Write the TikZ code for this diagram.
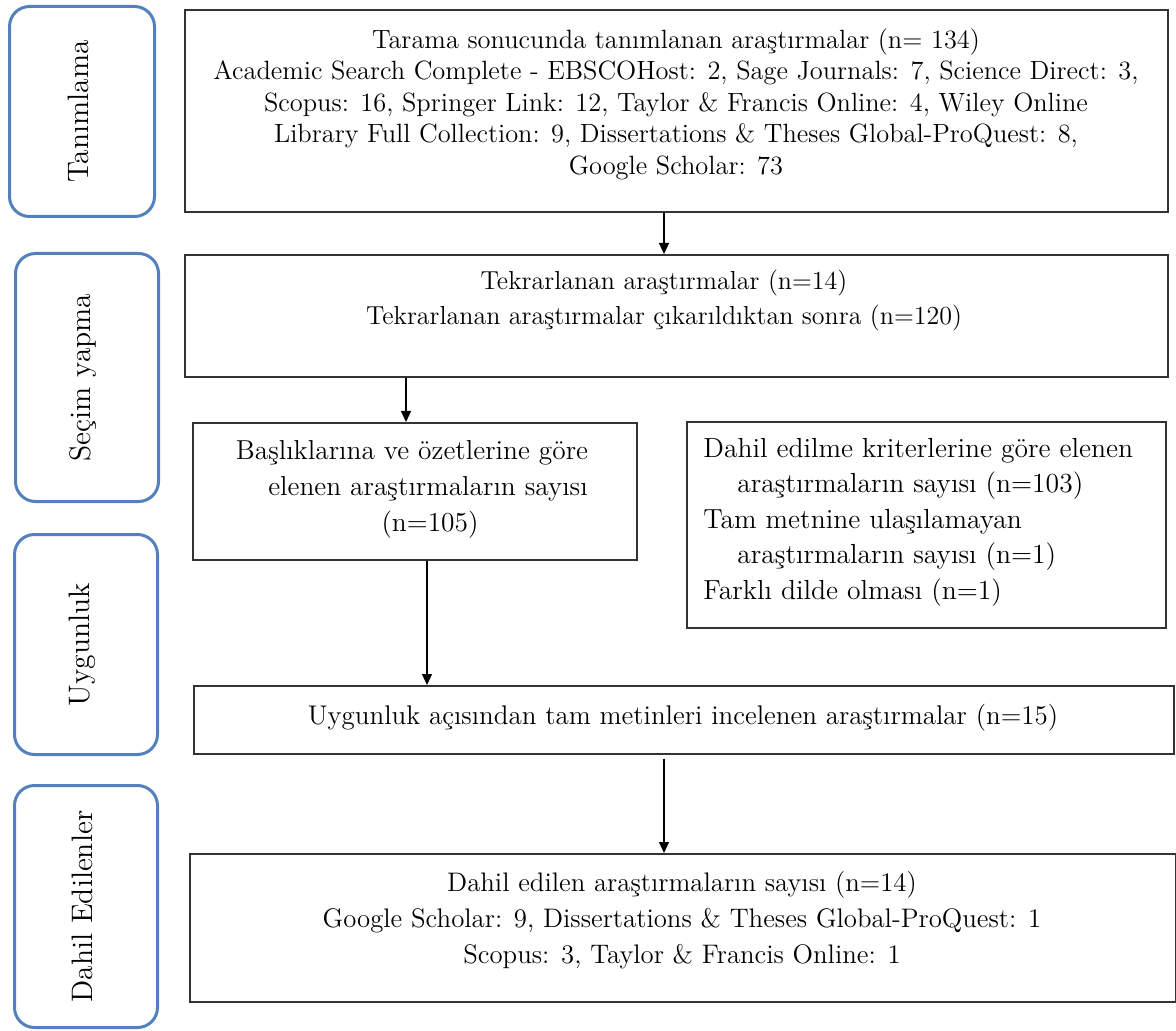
\documentclass[tikz,border=0pt]{standalone}
\usetikzlibrary{arrows.meta}
\definecolor{sideblue}{HTML}{5381BC}
\definecolor{boxline}{HTML}{333333}
\tikzset{
  sidebox/.style={draw=sideblue, line width=1.5pt, rounded corners=10pt, anchor=north west, inner sep=0pt},
  sidelabel/.style={rotate=90, font=\fontsize{14.8}{17}\selectfont, inner sep=0pt},
  mainbox/.style={draw=boxline, line width=0.8pt, anchor=north west, inner sep=0pt},
  maintext/.style={font=\fontsize{13.4}{15.75}\selectfont, inner sep=0pt},
  arr/.style={-{Triangle[length=5.5pt,width=5pt]}, line width=0.6pt, black}
}
\begin{document}
\begin{tikzpicture}[x=0.5pt,y=-0.5pt]
\useasboundingbox (0,0) rectangle (1176,1031);
\fill[white] (0,0) rectangle (1176,1031);
% side boxes
\node[sidebox, minimum width=72.5pt, minimum height=105pt] (s1) at (8,5) {};
\node[sidebox, minimum width=71.5pt, minimum height=124pt] (s2) at (14,252) {};
\node[sidebox, minimum width=71.5pt, minimum height=110pt] (s3) at (13,533) {};
\node[sidebox, minimum width=71.5pt, minimum height=121pt] (s4) at (13,784) {};
\node[sidelabel] (l1) at ([xshift=-2pt]s1.center) {Tanımlama};
\node[sidelabel] (l2) at ([xshift=-2pt]s2.center) {Seçim yapma};
\node[sidelabel] (l3) at ([xshift=-2pt]s3.center) {Uygunluk};
\node[sidelabel] (l4) at ([xshift=-2pt]s4.center) {Dahil Edilenler};
% main boxes
\node[mainbox, minimum width=491.5pt, minimum height=101pt] (b1) at (184,9) {};
\node[mainbox, minimum width=491.5pt, minimum height=61pt] (b2) at (184,254) {};
\node[mainbox, minimum width=222pt, minimum height=68.5pt] (b3) at (192,422) {};
\node[mainbox, minimum width=239.5pt, minimum height=103pt] (b4) at (686,421) {};
\node[mainbox, minimum width=490pt, minimum height=34pt] (b5) at (193,685) {};
\node[mainbox, minimum width=493pt, minimum height=74pt] (b6) at (189,853) {};
% texts
\node[maintext, align=center, font=\fontsize{13.2}{15.75}\selectfont] (t1) at (676,104) {Tarama sonucunda tanımlanan araştırmalar (n= 134)\\
Academic Search Complete - EBSCOHost: 2, Sage Journals: 7, Science Direct: 3,\\
Scopus: 16, Springer Link: 12, Taylor \& Francis Online: 4, Wiley Online\\
Library Full Collection: 9, Dissertations \& Theses Global-ProQuest: 8,\\
Google Scholar: 73};
\node[maintext, align=center, font=\fontsize{13}{17.5}\selectfont] (t2) at (664,301) {Tekrarlanan araştırmalar (n=14)\\
Tekrarlanan araştırmalar çıkarıldıktan sonra (n=120)};
\node[maintext, align=center, font=\fontsize{13.7}{18}\selectfont] (t3) at (412,489) {Başlıklarına ve özetlerine göre\\
\hspace*{16pt}elenen araştırmaların sayısı\\
\hspace*{18pt}(n=105)};
\node[maintext, align=left, anchor=west, font=\fontsize{13.8}{17.75}\selectfont] (t4) at (703,522) {Dahil edilme kriterlerine göre elenen\\
\hspace*{17pt}araştırmaların sayısı (n=103)\\
Tam metnine ulaşılamayan\\
\hspace*{17pt}araştırmaların sayısı (n=1)\\
Farklı dilde olması (n=1)};
\node[maintext, font=\fontsize{13.5}{16}\selectfont] (t5) at (683,718) {Uygunluk açısından tam metinleri incelenen araştırmalar (n=15)};
\node[maintext, align=center, font=\fontsize{13.4}{18}\selectfont] (t6) at (682,920) {Dahil edilen araştırmaların sayısı (n=14)\\
Google Scholar: 9, Dissertations \& Theses Global-ProQuest: 1\\
Scopus: 3, Taylor \& Francis Online: 1};
% arrows
\coordinate (xa) at (664,0);
\coordinate (xb) at (406,0);
\coordinate (xc) at (427,0);
\draw[arr] (b1.south -| xa) -- (b2.north -| xa);
\draw[arr] (b2.south -| xb) -- (b3.north -| xb);
\draw[arr] (b3.south -| xc) -- (b5.north -| xc);
\draw[arr, shorten <=2pt] (b5.south -| xa) -- (b6.north -| xa);
\end{tikzpicture}
\end{document}
